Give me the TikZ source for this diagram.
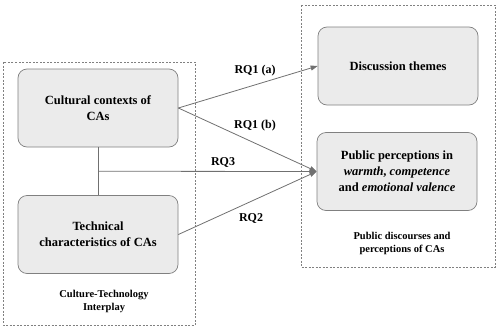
\documentclass[tikz,border=0pt]{standalone}
\usepackage{fontspec}
\setmainfont{Liberation Serif}
\usetikzlibrary{arrows.meta, positioning}
\definecolor{boxfill}{RGB}{235,235,235}
\definecolor{boxline}{RGB}{128,128,128}
\definecolor{linkgray}{RGB}{112,112,112}

\begin{document}
\begin{tikzpicture}[x=1pt, y=-1pt,
    box/.style={draw=boxline, fill=boxfill, rounded corners=9pt, line width=0.7pt,
      minimum width=160pt, minimum height=78pt, align=center,
      font=\fontsize{12.5}{16}\selectfont\bfseries},
    frame/.style={draw=boxline, dash pattern=on 2pt off 1.5pt, line width=0.5pt},
    link/.style={draw=linkgray, line width=0.8pt, -{Triangle[length=7pt, width=5pt]}},
    rqlabel/.style={font=\fontsize{12}{14}\selectfont\bfseries},
    caption/.style={align=center, font=\fontsize{10.5}{13}\selectfont\bfseries}]
  \useasboundingbox (0,0) rectangle (500,327);
  % dashed groups
  \draw[frame] (3,62) rectangle (195,325);
  \draw[frame] (301,5) rectangle (495,267);
  % boxes
  \node[box] (culture) at (98,108) {Cultural contexts of\\CAs};
  \node[box] (tech) at (98,234.5) {Technical\\characteristics of CAs};
  \node[box] (themes) at (398,66) {Discussion themes};
  \node[box] (percep) at (397,171.5) {Public perceptions in\\\textit{warmth}, \textit{competence}\\and \textit{emotional valence}};
  % group captions
  \node[caption] (cultcap) at (104,301.5) {Culture-Technology\\Interplay};
  \node[caption] (pubcap) at (402,243.5) {Public discourses and\\perceptions of CAs};
  % interplay line
  \draw[draw=linkgray, line width=0.8pt] (culture) -- (tech)
    coordinate[pos=0.5] (mid);
  % research questions
  \draw[link] (culture.east) -- (themes.west);
  \draw[link] (culture.east) -- (percep.west);
  \draw[link] (mid) -- (percep.west);
  \draw[link] (tech.east) -- (percep.west);
  \node[rqlabel] (rq1a) at (255,71) {RQ1 (a)};
  \node[rqlabel] (rq1b) at (255,126) {RQ1 (b)};
  \node[rqlabel] (rq3) at (223,162) {RQ3};
  \node[rqlabel] (rq2) at (251,218) {RQ2};
\end{tikzpicture}
\end{document}
